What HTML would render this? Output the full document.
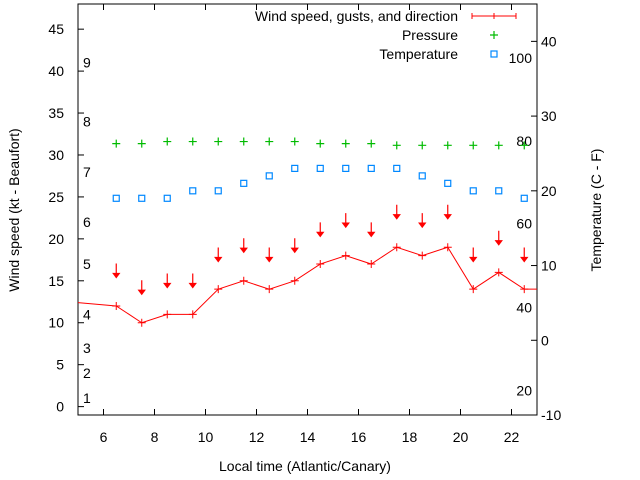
<!DOCTYPE html>
<html><head><meta charset="utf-8"><style>
body{margin:0;background:#fff;}
svg{display:block;font-family:"Liberation Sans",sans-serif;}
</style></head><body>
<svg id="chart" width="640" height="480" viewBox="0 0 640 480" xmlns="http://www.w3.org/2000/svg">
<rect x="78" y="4" width="459" height="411" fill="none" stroke="#000" stroke-width="1"/>
<g id="axes"></g>
<g id="marks"></g>
<text transform="translate(19,210) rotate(-90)" text-anchor="middle" font-size="14">Wind speed (kt - Beaufort)</text>
<text transform="translate(601,210) rotate(-90)" text-anchor="middle" font-size="14">Temperature (C - F)</text>
<text x="305" y="471" text-anchor="middle" font-size="14">Local time (Atlantic/Canary)</text>
<g font-size="14" text-anchor="end">
<text x="458" y="21">Wind speed, gusts, and direction</text>
<line x1="472" y1="16" x2="516" y2="16" stroke="#f00"/>
<line x1="472" y1="13" x2="472" y2="19" stroke="#f00"/><line x1="516" y1="13" x2="516" y2="19" stroke="#f00"/>
<line x1="494" y1="13" x2="494" y2="19" stroke="#f00"/>
<text x="458" y="40">Pressure</text>
<path d="M490,35H498M494,31V39" stroke="#0b0" stroke-width="1.2"/>
<text x="458" y="59">Temperature</text>
<rect x="491" y="51" width="6" height="6" fill="none" stroke="#08f" stroke-width="1.2"/>
</g>
</svg>
<script>
const hours=[6.5,7.5,8.5,9.5,10.5,11.5,12.5,13.5,14.5,15.5,16.5,17.5,18.5,19.5,20.5,21.5,22.5];
const windSpeed=[12,10,11,11,14,15,14,15,17,18,17,19,18,19,14,16,14];
const windGust=[15.4,13.4,14.2,14.2,17.3,18.4,17.3,18.4,20.3,21.4,20.3,22.4,21.4,22.4,17.3,19.3,17.3];
const pressure=[31.35,31.35,31.6,31.6,31.6,31.6,31.6,31.6,31.35,31.35,31.35,31.15,31.15,31.15,31.15,31.15,31.15];
const temperature=[19,19,19,20,20,21,22,23,23,23,23,23,22,21,20,20,19];
const windStart=12.4, windEnd=14;
const xTicks=[6,8,10,12,14,16,18,20,22];
const yTicks=[0,5,10,15,20,25,30,35,40,45];
const y2Ticks=[-10,0,10,20,30,40];
const beaufort=["1","2","3","4","5","6","7","8","9"];
const beaufortKt=[1,4,7,11,17,22,28,34,41];
const fahrenheit=["20","40","60","80","100"];
const fahrenheitC=[-6.7,4.4,15.6,26.7,37.8];

const L=78,R=537,T=4,B=415;
const X=h=>L+(h-5)/(23-5)*(R-L);
const Y=v=>B-(v+1)/(48+1)*(B-T);
const Y2=c=>B-(c+10)/(45+10)*(B-T);
const NS="http://www.w3.org/2000/svg";
function mk(tag,attrs,parent,txt){const e=document.createElementNS(NS,tag);for(const k in attrs)e.setAttribute(k,attrs[k]);if(txt!==undefined)e.textContent=txt;parent.appendChild(e);return e;}
const ax=document.getElementById('axes'), mg=document.getElementById('marks');
xTicks.forEach(h=>{
  const x=X(h);
  mk('line',{x1:x,y1:B,x2:x,y2:B-6,stroke:'#000'},ax);
  mk('line',{x1:x,y1:T,x2:x,y2:T+6,stroke:'#000'},ax);
  const t=mk('text',{x:x,y:B+27,'text-anchor':'middle','font-size':14},ax,String(h));
  
  
});
yTicks.forEach(v=>{
  const y=Y(v);
  mk('line',{x1:L,y1:y,x2:L+6,y2:y,stroke:'#000'},ax);
  const t=mk('text',{x:L-14,y:y+5,'text-anchor':'end','font-size':14},ax,String(v));
  
  
});
y2Ticks.forEach(c=>{
  const y=Y2(c);
  mk('line',{x1:R,y1:y,x2:R-6,y2:y,stroke:'#000'},ax);
  const t=mk('text',{x:R+4,y:y+5,'font-size':14},ax,String(c));
  
  
});
beaufort.forEach((b,i)=>{
  const t=mk('text',{x:83,y:Y(beaufortKt[i])+5,'font-size':14},ax,b);
  
  
});
fahrenheit.forEach((f,i)=>{
  const t=mk('text',{x:532,y:Y2(fahrenheitC[i])+5,'text-anchor':'end','font-size':14},ax,f);
  
  
});
let pts=[[L,Y(windStart)]];
hours.forEach((h,i)=>pts.push([X(h),Y(windSpeed[i])]));
pts.push([R,Y(windEnd)]);
const line=mk('polyline',{points:pts.map(p=>p.join(',')).join(' '),fill:'none',stroke:'#f00','stroke-width':1},mg);


hours.forEach((h,i)=>{
  const x=X(h);
  const y=Y(windSpeed[i]);
  const m=mk('path',{d:`M${x-4},${y}H${x+4}M${x},${y-4}V${y+4}`,stroke:'#f00'},mg);
  
  
  const gy=Y(windGust[i]);
  const a=mk('path',{d:`M${x},${gy-14}V${gy}M${x-3},${gy-4}L${x},${gy}L${x+3},${gy-4}Z`,stroke:'#f00',fill:'#f00','stroke-width':1.2},mg);
  
  
  const py=Y(pressure[i]);
  const p=mk('path',{d:`M${x-4},${py}H${x+4}M${x},${py-4}V${py+4}`,stroke:'#0b0','stroke-width':1.2},mg);
  
  
  const ty=Y2(temperature[i]);
  const s=mk('rect',{x:x-3,y:ty-3,width:6,height:6,fill:'none',stroke:'#08f','stroke-width':1.2},mg);
  
  
});
</script>
</body></html>
